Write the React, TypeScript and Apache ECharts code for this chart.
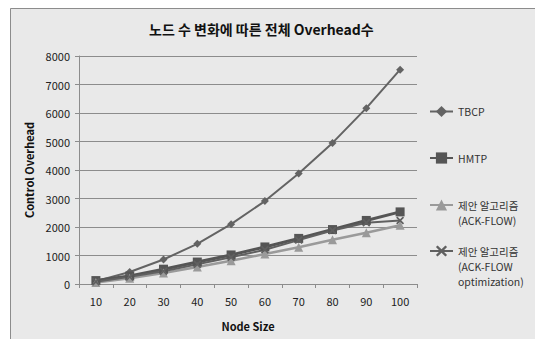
import React, { useEffect, useRef } from "react";
import * as echarts from "echarts";

const nodeSizes = ["10", "20", "30", "40", "50", "60", "70", "80", "90", "100"];
const tbcp = [100, 420, 860, 1410, 2100, 2910, 3880, 4950, 6170, 7520];
const hmtp = [120, 280, 520, 770, 1020, 1300, 1600, 1910, 2230, 2530];
const ackFlow = [50, 200, 385, 595, 815, 1050, 1290, 1550, 1800, 2060];
const ackFlowOpt = [80, 250, 450, 690, 940, 1200, 1540, 1880, 2150, 2230];

const nameTbcp = "TBCP";
const nameHmtp = "HMTP";
const nameAck = "제안 알고리즘\n(ACK-FLOW)";
const nameOpt = "제안 알고리즘\n(ACK-FLOW\noptimization)";

const FONT = '"Noto Sans CJK KR", "Noto Sans", sans-serif';
const CROSS =
  "path://M0,1.5L1.5,0L5,3.5L8.5,0L10,1.5L6.5,5L10,8.5L8.5,10L5,6.5L1.5,10L0,8.5L3.5,5Z";

const LH = 15;
// one legend per entry so each sits at its own height; blank lines in front of
// a multi-line name keep the icon level with its first line
function legendFor(name: string, iconY: number) {
  const lines = name.split("\n").length;
  return {
    data: [name],
    formatter: (n: string) => "\n".repeat(lines - 1) + n,
    orient: "vertical",
    left: 429,
    top: iconY - ((2 * lines - 1) * LH) / 2,
    itemWidth: 23,
    itemHeight: 14,
    padding: 0,
    textStyle: {
      fontFamily: FONT,
      fontSize: 10.5,
      color: "#333",
      lineHeight: LH,
    },
  };
}

export default function App() {
  const ref = useRef<HTMLDivElement>(null);

  useEffect(() => {
    if (!ref.current) return;
    const chart = echarts.init(ref.current, null, { renderer: "svg" });
    chart.setOption({
      animation: false,
      backgroundColor: "#e9e9e9",
      graphic: [
        // white margin outside the chart frame, and the frame's edges
        {
          type: "rect",
          silent: true,
          shape: { x: 0, y: 0, width: 10, height: 339 },
          style: { fill: "#ffffff" },
        },
        {
          type: "rect",
          silent: true,
          shape: { x: 0, y: 0, width: 535, height: 8 },
          style: { fill: "#ffffff" },
        },
        {
          type: "line",
          silent: true,
          shape: { x1: 10.5, y1: 8.5, x2: 535, y2: 8.5 },
          style: { stroke: "#8c8c8c", lineWidth: 1 },
        },
        {
          type: "line",
          silent: true,
          shape: { x1: 10.5, y1: 8.5, x2: 10.5, y2: 339 },
          style: { stroke: "#8c8c8c", lineWidth: 1 },
        },
      ],
      title: {
        text: "노드 수 변화에 따른 전체 Overhead수",
        left: 149,
        top: 22,
        padding: 0,
        textStyle: {
          fontFamily: FONT,
          fontSize: 14,
          fontWeight: "bold",
          color: "#111",
        },
      },
      legend: [
        legendFor(nameTbcp, 111.5),
        legendFor(nameHmtp, 158),
        legendFor(nameAck, 205),
        legendFor(nameOpt, 251),
      ],
      grid: { left: 79, top: 56, width: 338, height: 228 },
      xAxis: {
        type: "category",
        data: nodeSizes,
        boundaryGap: true,
        name: "Node Size",
        nameLocation: "middle",
        nameGap: 36,
        nameTextStyle: {
          fontFamily: FONT,
          fontSize: 11,
          fontWeight: "bold",
          color: "#111",
        },
        axisLine: { lineStyle: { color: "#8c8c8c", width: 1 } },
        axisTick: { show: true, length: 4, lineStyle: { color: "#8c8c8c" } },
        axisLabel: {
          fontFamily: FONT,
          fontSize: 11,
          color: "#222",
          margin: 11,
        },
        splitLine: { show: false },
      },
      yAxis: {
        type: "value",
        min: 0,
        max: 8000,
        interval: 1000,
        name: "Control Overhead",
        nameLocation: "middle",
        nameGap: 45,
        nameTextStyle: {
          fontFamily: FONT,
          fontSize: 11,
          fontWeight: "bold",
          color: "#111",
        },
        axisLine: { show: true, lineStyle: { color: "#8c8c8c", width: 1 } },
        axisTick: { show: true, length: 4, lineStyle: { color: "#8c8c8c" } },
        axisLabel: {
          fontFamily: FONT,
          fontSize: 11,
          color: "#222",
          margin: 9,
          formatter: (v: number) => String(v),
        },
        splitLine: { show: true, lineStyle: { color: "#8c8c8c", width: 1 } },
      },
      series: [
        {
          name: nameTbcp,
          type: "line",
          data: tbcp,
          symbol: "diamond",
          symbolSize: 8,
          color: "#636363",
          lineStyle: { width: 2, color: "#636363" },
          itemStyle: { color: "#636363" },
        },
        {
          name: nameHmtp,
          type: "line",
          data: hmtp,
          symbol: "rect",
          symbolSize: 9,
          color: "#555555",
          lineStyle: { width: 3, color: "#555555" },
          itemStyle: { color: "#555555" },
        },
        {
          name: nameAck,
          type: "line",
          data: ackFlow,
          symbol: "triangle",
          symbolSize: 9,
          color: "#9a9a9a",
          lineStyle: { width: 2.5, color: "#9a9a9a" },
          itemStyle: { color: "#9a9a9a" },
        },
        {
          name: nameOpt,
          type: "line",
          data: ackFlowOpt,
          symbol: CROSS,
          symbolSize: 8,
          color: "#606060",
          lineStyle: { width: 2, color: "#606060" },
          itemStyle: { color: "#606060" },
        },
      ],
    });
    return () => chart.dispose();
  }, []);

  return (
    <div
      ref={ref}
      style={{
        position: "absolute",
        left: 0,
        top: 0,
        width: 535,
        height: 339,
        background: "#e9e9e9",
      }}
    />
  );
}
